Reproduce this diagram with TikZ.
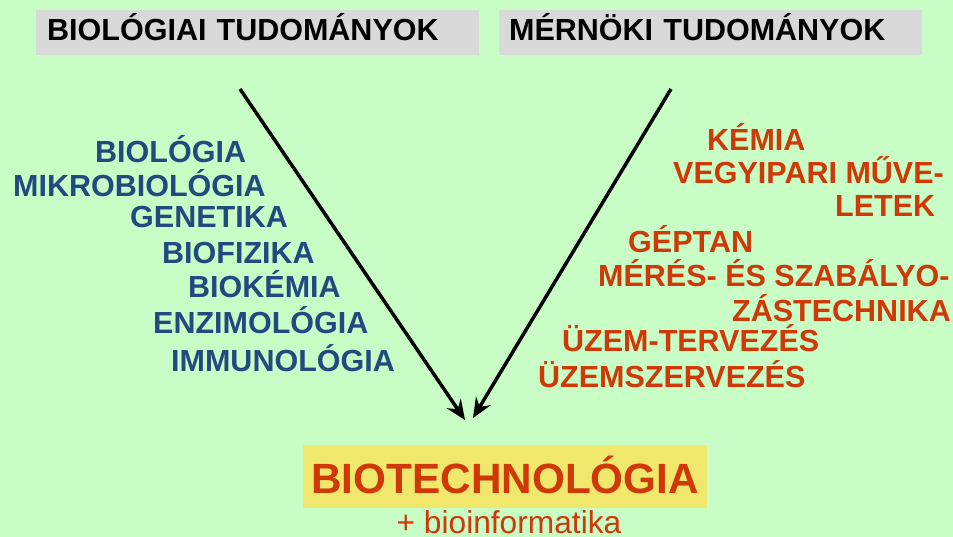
\documentclass[tikz,border=0pt]{standalone}
\usepackage{fontspec}
\setmainfont{Liberation Sans}
\usetikzlibrary{arrows.meta}
\definecolor{bggreen}{RGB}{200,254,198}
\definecolor{hdrgray}{RGB}{217,217,217}
\definecolor{biotxt}{RGB}{33,74,128}
\definecolor{engtxt}{RGB}{208,56,8}
\definecolor{resyellow}{RGB}{240,232,108}
\tikzset{
  hdr/.style={fill=hdrgray, anchor=north west, inner ysep=0pt, text height=30pt, text depth=15pt,
    align=left, font=\fontsize{30.5}{35}\selectfont\bfseries},
  bio/.style={anchor=base west, inner sep=0pt, text=biotxt, font=\fontsize{30.5}{35}\selectfont\bfseries},
  eng/.style={anchor=base west, inner sep=0pt, text=engtxt, font=\fontsize{30.5}{35}\selectfont\bfseries},
}
\begin{document}
\begin{tikzpicture}[x=1pt, y=-1pt, line join=round, >={Stealth[length=20pt,width=17pt,inset=7pt]}]
	\fill[bggreen] (0,0) rectangle (953,537);
	\useasboundingbox (0,0) rectangle (953,537);
	% headers
	\node[hdr, inner xsep=11pt, text width=421pt] (biohdr) at (36,10) {BIOLÓGIAI TUDOMÁNYOK};
	\node[hdr, inner xsep=10pt, text width=403pt] (enghdr) at (499,10) {MÉRNÖKI TUDOMÁNYOK};
	% biological subjects
	\foreach \x/\y/\t [count=\i] in {95/163/BIOLÓGIA, 13/197/MIKROBIOLÓGIA, 130/228/GENETIKA,
		162/264/BIOFIZIKA, 188/298/BIOKÉMIA, 153/334/ENZIMOLÓGIA, 171/371/IMMUNOLÓGIA}
		\node[bio] (bio\i) at (\x,\y) {\t};
	% engineering subjects
	\foreach \x/\y/\t [count=\i] in {707/151/KÉMIA, 673/184/VEGYIPARI MŰVE-, 835/217/LETEK,
		628/253/GÉPTAN, 598/287/MÉRÉS- ÉS SZABÁLYO-, 732/321/ZÁSTECHNIKA,
		562/352/ÜZEM-TERVEZÉS, 538/387/ÜZEMSZERVEZÉS}
		\node[eng] (eng\i) at (\x,\y) {\t};
	% result
	\node[fill=resyellow, anchor=north west, minimum width=404pt, inner ysep=0pt, text height=48pt, text depth=15pt,
		text=engtxt, font=\fontsize{42.3}{48}\selectfont\bfseries] (biotech) at (303,445) {BIOTECHNOLÓGIA};
	\node[anchor=base, inner sep=0pt, text depth=0pt, text=engtxt, font=\fontsize{31.7}{36}\selectfont] (bioinf) at (509,533) {+ bioinformatika};
	% arrows
	\coordinate (biostart) at (240,89);
	\coordinate (bioend) at (465,420);
	\coordinate (engstart) at (671,89);
	\coordinate (engend) at (473,418);
	\draw[->, line width=3.5pt] (biostart) -- (bioend);
	\draw[->, line width=3.5pt] (engstart) -- (engend);
\end{tikzpicture}
\end{document}
